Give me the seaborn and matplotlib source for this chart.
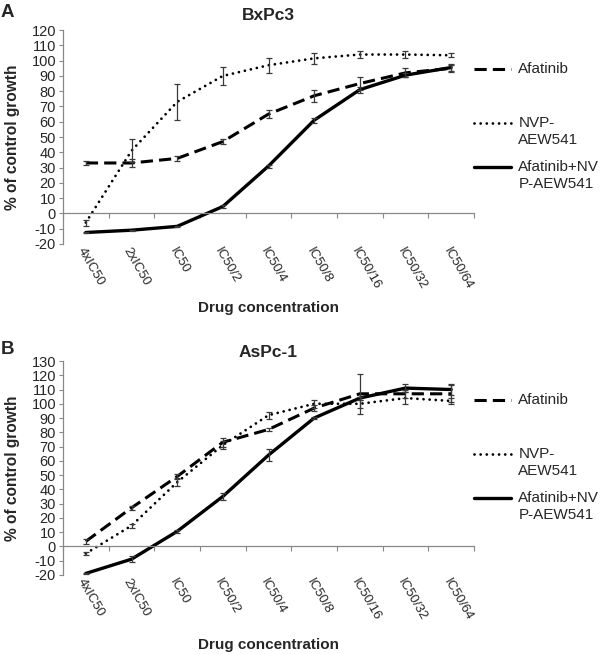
import numpy as np
import pandas as pd
import matplotlib
matplotlib.use("Agg")
import matplotlib.pyplot as plt
import seaborn as sns

# data
conc = ["4xIC50", "2xIC50", "IC50", "IC50/2", "IC50/4",
        "IC50/8", "IC50/16", "IC50/32", "IC50/64"]
series = ["Afatinib", "NVP-AEW541", "Afatinib+NVP-AEW541"]
legend_labels = ["Afatinib", "NVP-\nAEW541", "Afatinib+NV\nP-AEW541"]

# panel A: BxPc3
bx_afa = [33, 33, 36, 47, 65, 77, 85, 92, 95]
bx_afa_err = [1, 2.4, 1.7, 1.7, 2.4, 3.8, 4.5, 3, 2.3]
bx_nvp = [-6, 41, 73, 90, 97, 101.5, 104, 104, 103.5]
bx_nvp_err = [2, 7.5, 12, 6, 5, 3.5, 2.5, 2, 1.3]
bx_combo = [-12.5, -11, -8.5, 4.5, 31, 61, 81, 90.5, 95.5]
bx_combo_err = [0.5, 0.3, 0.3, 1, 1, 1.5, 2, 1.5, 2]

# panel B: AsPc-1
as_afa = [3.5, 27, 49, 73, 82, 97, 107, 107, 107]
as_afa_err = [1.5, 1.5, 2, 3, 1, 2, 14, 3, 6]
as_nvp = [-5, 14.5, 45, 71, 92, 100, 100, 104, 102]
as_nvp_err = [1, 1.5, 3, 3, 2.5, 3, 3, 4, 2]
as_combo = [-19, -9, 10.5, 35, 64, 90, 104, 111, 110]
as_combo_err = [0.5, 2, 1, 2.5, 4, 1, 1, 3, 4]

sns.set_style("white")
plt.rcParams['font.family'] = ['Liberation Sans', 'DejaVu Sans']
plt.rcParams['axes.unicode_minus'] = False

styles = {
    "Afatinib": dict(dashes=(4, 2), lw=2.2),
    "NVP-AEW541": dict(dashes=(0.01, 2.2), lw=2.0, dash_capstyle='round'),
    "Afatinib+NVP-AEW541": dict(lw=2.4),
}
# top of each legend entry, px below the top of the axes
legend_offsets = [32, 86, 130]

fig = plt.figure(figsize=(6, 6.54), dpi=100)


def panel(rect, title, letter, vals, errs, ymax, pad, title_y, letter_y,
          xlab_y):
    ax = fig.add_axes(rect)
    h_px = rect[3] * 654
    x = np.arange(len(conc))
    df = pd.DataFrame({"x": np.tile(x, 3),
                       "y": np.concatenate(vals),
                       "drug": np.repeat(series, len(conc))})
    for name in series:
        sub = df[df.drug == name]
        st = dict(styles[name])
        dashes = st.pop("dashes", None)
        sns.lineplot(data=sub, x="x", y="y", ax=ax, color="black",
                     legend=False, **st)
        if dashes is not None:
            ax.lines[-1].set_dashes(dashes)
    handles = list(ax.lines)
    for v, e in zip(vals, errs):
        ax.errorbar(x, v, yerr=e, fmt='none', ecolor='#3a3a3a',
                    elinewidth=0.9, capsize=2.5, capthick=0.9, zorder=3)

    ax.set_xlim(-0.5, len(conc) - 0.5)
    ax.set_ylim(-20, ymax)
    ax.set_yticks(np.arange(-20, ymax + 1, 10))
    ax.tick_params(axis='y', labelsize=10.5, length=3, color='#888888',
                   width=0.8, pad=2, left=True)
    # x axis drawn at y = 0, labels below the plot
    ax.spines['bottom'].set_position(('data', 0))
    for s in ['bottom', 'left']:
        ax.spines[s].set_color('#888888')
        ax.spines[s].set_linewidth(0.9)
    sns.despine(ax=ax)
    ax.set_xticks(x)
    ax.set_xticklabels(conc, rotation=-60, ha='left', va='top',
                       rotation_mode='anchor', fontsize=9.5)
    ax.tick_params(axis='x', which='major', length=0, pad=pad)
    ax.set_xticks(np.arange(-0.5, len(conc)), minor=True)
    ax.tick_params(axis='x', which='minor', length=3.5, color='#888888',
                   width=0.8, bottom=True)
    ax.set_xlabel("")
    ax.set_ylabel("% of control growth", fontsize=11.2, fontweight='bold',
                  labelpad=8)
    ax.text(0.5, 1 + title_y / h_px, title, transform=ax.transAxes,
            ha='center', va='center', fontsize=12.5, fontweight='bold')
    ax.text(0.5, -xlab_y / h_px, "Drug concentration",
            transform=ax.transAxes, ha='center', va='center',
            fontsize=11, fontweight='bold')
    ax.text(-0.152, 1 + letter_y / h_px, letter, transform=ax.transAxes,
            ha='left', va='center', fontsize=13.5, fontweight='bold')
    # one legend per entry so the uneven Excel spacing can be kept
    for hnd, lab, off in zip(handles, legend_labels, legend_offsets):
        leg = ax.legend([hnd], [lab], loc='upper left',
                        bbox_to_anchor=(1.0, 1 - off / h_px),
                        frameon=False, fontsize=11, borderpad=0,
                        borderaxespad=0, handlelength=2.4,
                        handletextpad=0.5, handleheight=1.2)
        for t in leg.get_texts():
            t.set_linespacing(1.3)
        # handle level with the first line of the label
        for col in leg._legend_handle_box.get_children():
            for item in col.get_children():
                item.align = "top"
        ax.add_artist(leg)
    ax.legend_ = None
    return ax


panel([0.105, 0.627, 0.685, 0.327], "BxPc3", "A",
      [bx_afa, bx_nvp, bx_combo],
      [bx_afa_err, bx_nvp_err, bx_combo_err], 120, 23, 15, 18, 64)
panel([0.105, 0.121, 0.685, 0.327], "AsPc-1", "B",
      [as_afa, as_nvp, as_combo],
      [as_afa_err, as_nvp_err, as_combo_err], 130, 21.5, 9, 12, 70)

fig.savefig("out.png", dpi=100)
